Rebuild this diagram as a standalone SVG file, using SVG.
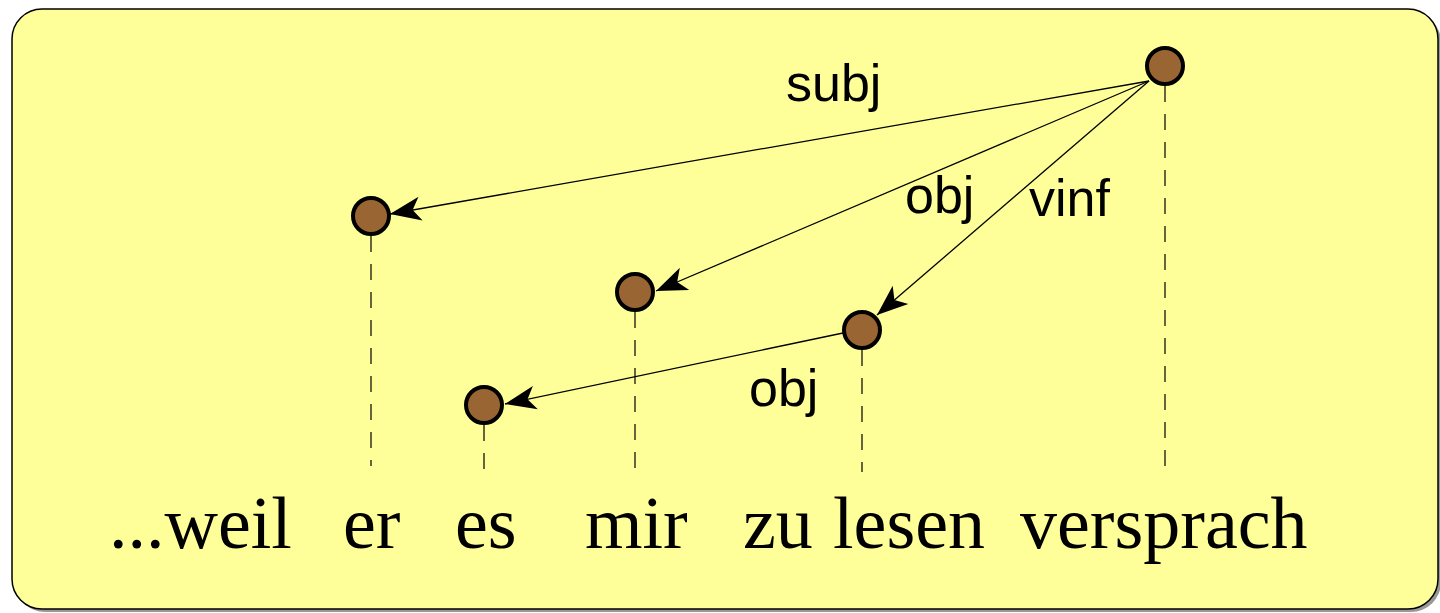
<svg xmlns="http://www.w3.org/2000/svg" width="1440" height="613" viewBox="0 0 1440 613">
<style>
.node{fill:#996633;stroke:#000;stroke-width:4}
.edge{stroke:#000;stroke-width:1.3;fill:none}
.dash{stroke:#000;stroke-width:1.2;stroke-dasharray:16 12;fill:none}
.lbl{font-family:"Liberation Sans",Arial,sans-serif;font-size:52px;fill:#000}
.word{font-family:"Liberation Serif","Times New Roman",serif;font-size:74px;fill:#000}
</style>
<defs>
<marker id="arr" markerUnits="userSpaceOnUse" viewBox="-33 -13 35 26" refX="0" refY="0" markerWidth="35" markerHeight="26" orient="auto">
<path d="M0,0 L-31,-12 L-23,0 L-31,12 Z" fill="#000"/>
</marker>
</defs>
<rect x="15" y="12" width="1426" height="600" rx="30" ry="30" fill="#999"/>
<rect x="12" y="9" width="1426" height="600" rx="30" ry="30" fill="#ffff99" stroke="#000" stroke-width="1.5"/>
<g id="guides">
<line class="dash" x1="1165" y1="86" x2="1165" y2="466"/>
<line class="dash" x1="371" y1="236" x2="371" y2="466"/>
<line class="dash" x1="635" y1="312" x2="635" y2="473"/>
<line class="dash" x1="862" y1="350" x2="862" y2="472"/>
<line class="dash" x1="484" y1="425" x2="484" y2="472"/>
</g>
<g id="connectors">
<line class="edge" x1="1149" y1="81" x2="390" y2="214" marker-end="url(#arr)"/>
<line class="edge" x1="1149" y1="81" x2="656" y2="291" marker-end="url(#arr)"/>
<line class="edge" x1="1149" y1="81" x2="877" y2="315" marker-end="url(#arr)"/>
<line class="edge" x1="843" y1="333" x2="505" y2="404" marker-end="url(#arr)"/>
<text class="lbl" x="786" y="101">subj</text>
<text class="lbl" x="905" y="213">obj</text>
<text class="lbl" x="1029" y="216">vinf</text>
<text class="lbl" x="749" y="406">obj</text>
</g>
<g id="n-versprach"><circle class="node" cx="1165" cy="66" r="18"/></g>
<g id="n-er"><circle class="node" cx="371" cy="216" r="18"/></g>
<g id="n-mir"><circle class="node" cx="635" cy="292" r="18"/></g>
<g id="n-lesen"><circle class="node" cx="862" cy="330" r="18"/></g>
<g id="n-es"><circle class="node" cx="484" cy="405" r="18"/></g>
<g id="words">
<text class="word" x="109" y="548">...weil</text>
<text class="word" x="343" y="548">er</text>
<text class="word" x="455" y="548">es</text>
<text class="word" x="585" y="548">mir</text>
<text class="word" x="743" y="548">zu</text>
<text class="word" x="833" y="548">lesen</text>
<text class="word" x="1020" y="548">versprach</text>
</g>
</svg>
